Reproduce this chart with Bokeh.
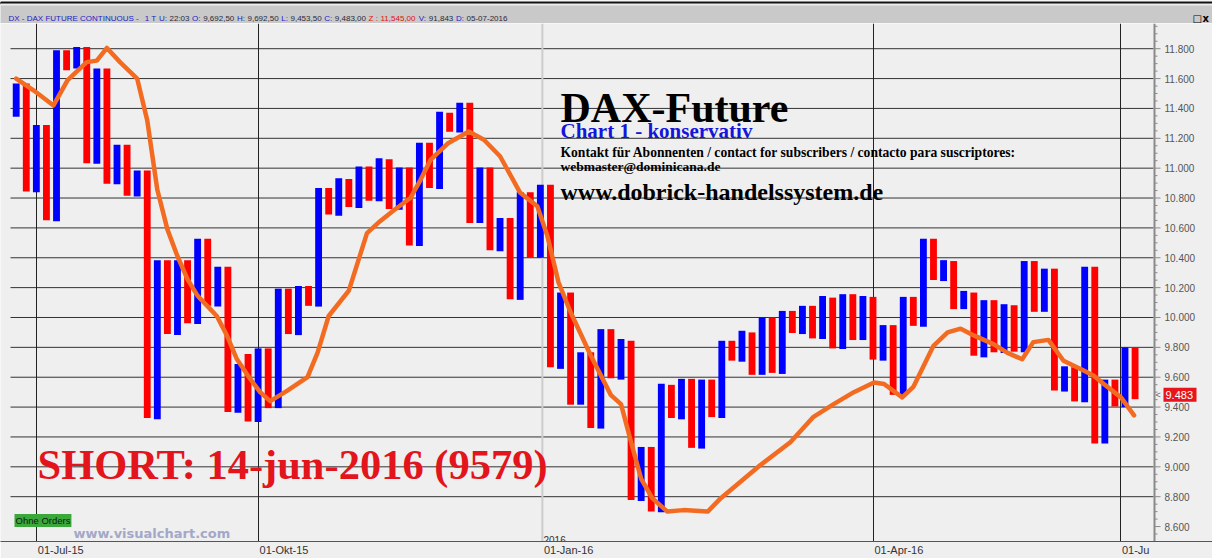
from bokeh.plotting import figure
from bokeh.models import Range1d, FixedTicker, Span, Label, ColumnDataSource
from bokeh.layouts import column
from bokeh.embed import file_html
from bokeh.resources import INLINE
from bokeh.core.properties import value

# ---------------- data ----------------
bar_top = [11567, 11567, 11289, 11289, 11789, 11789, 11811, 11811, 11667, 11667,
           11156, 11156, 10984, 10984, 10384, 10384, 10384, 10384, 10527, 10527,
           10340, 10340, 9689, 9756, 9793, 9793, 10193, 10193, 10211, 10211,
           10867, 10867, 10933, 10927, 11011, 11011, 11067, 11060, 11004, 11004,
           11171, 11171, 11378, 11371, 11438, 11438, 11004, 11004, 10667, 10667,
           10838, 10838, 10889, 10889, 10167, 10167, 9767, 9767, 9922, 9922,
           9856, 9844, 9133, 9133, 9556, 9549, 9589, 9589, 9584, 9584,
           9844, 9844, 9911, 9900, 10000, 10000, 10044, 10044, 10078, 10078,
           10144, 10133, 10156, 10156, 10144, 10138, 9949, 9949, 10138, 10138,
           10527, 10527, 10384, 10378, 10178, 10167, 10116, 10116, 10089, 10082,
           10378, 10378, 10327, 10327, 9673, 9667, 10340, 10340, 9584, 9584,
           9800, 9800]
bar_bottom = [11344, 10844, 10838, 10651, 10644, 11656, 11667, 11033, 11029, 10896,
              10893, 10816, 10811, 9327, 9318, 9889, 9882, 9962, 9956, 10078,
              10073, 9367, 9362, 9304, 9300, 9393, 9393, 9889, 9882, 10078,
              10073, 10689, 10682, 10740, 10733, 10782, 10778, 10727, 10722, 10482,
              10478, 10867, 10860, 11244, 11238, 10633, 10633, 10451, 10444, 10122,
              10118, 10400, 10400, 9667, 9656, 9416, 9416, 9260, 9256, 9593,
              9584, 8778, 8771, 8700, 8696, 9327, 9318, 9127, 9122, 9333,
              9327, 9711, 9704, 9616, 9616, 9629, 9622, 9896, 9889, 9860,
              9856, 9793, 9789, 9849, 9849, 9718, 9711, 9482, 9478, 9944,
              9938, 10251, 10244, 10056, 10056, 9744, 9733, 9767, 9762, 9771,
              9767, 10038, 10038, 9511, 9504, 9438, 9433, 9156, 9156, 9404,
              9400, 9453]
ma_index = [0, 1.75, 3.7, 5.1, 7, 8, 9, 10.3, 12, 13,
            14, 15, 16, 17, 18, 19.9, 20.9, 21.9, 23.2, 24.2,
            25.2, 26.9, 28.9, 29.9, 31, 33, 34.8, 36.1, 37.5, 39.1,
            40.1, 41.1, 42.8, 44.9, 46.4, 48, 50, 51.7, 52.7, 53.8,
            55, 57, 59, 60, 61, 62, 63.1, 64.6, 66.2, 68.6,
            69.9, 71.5, 73.8, 76.8, 79.1, 81.1, 83.1, 85.1, 86.1, 87.9,
            89, 91, 92.4, 93.7, 95, 97, 98.3, 99.8, 100.9, 102.4,
            103.9, 105.9, 106.9, 107.9, 109.6, 110.9]
ma_value = [11600, 11520, 11420, 11590, 11710, 11720, 11805, 11710, 11600, 11320,
            10855, 10590, 10410, 10255, 10145, 10010, 9880, 9720, 9590, 9500,
            9440, 9510, 9600, 9765, 10010, 10180, 10565, 10645, 10720, 10800,
            10920, 11055, 11165, 11245, 11190, 11080, 10835, 10745, 10545, 10235,
            10035, 9745, 9480, 9420, 9165, 8920, 8790, 8700, 8710, 8700,
            8790, 8880, 9010, 9165, 9335, 9420, 9500, 9565, 9555, 9465,
            9535, 9810, 9900, 9925, 9880, 9820, 9765, 9720, 9835, 9850,
            9710, 9645, 9610, 9555, 9465, 9345]
y_ticks = list(range(8600, 11801, 200))
date_ticks = [2, 24, 52.2, 85, 109.55]
date_labels = ["01-Jul-15", "01-Okt-15", "01-Jan-16", "01-Apr-16", "01-Ju"]
last_price = 9483
header_parts = ["DX - DAX FUTURE CONTINUOUS -", "1 T", "U:", "22:03", "O:", "9,692,50", "H:", "9,692,50",
                "L:", "9,453,50", "C:", "9,483,00", "Z :", "11,545,00", "V:", "91,843", "D:", "05-07-2016"]
header_kind = ["lab", "lab", "lab", "val", "lab", "val", "lab", "val",
               "lab", "val", "lab", "val", "red", "red", "lab", "val", "lab", "val"]

# ---------------- helpers: reference pixel -> data ----------------
def ix(px):
    return (px - 15.7) / 10.08

def vy(py):
    return 11800 - (py - 48.3) * 6.671

PX = 6.671  # price units per pixel

HELV = {" ": 278, "-": 333, ",": 278, ":": 278, ".": 278, "J": 500, "u": 556, "l": 222, "O": 778,
        "k": 500, "t": 278, "a": 556, "n": 556, "A": 667, "p": 556, "r": 333, "C": 722, "D": 722,
        "E": 667, "F": 611, "H": 722, "I": 278, "L": 556, "N": 722, "R": 722, "S": 667, "T": 611,
        "U": 722, "V": 667, "X": 667, "Z": 611}

def tw(s, size):
    return sum(HELV.get(c, 556) for c in s) / 1000 * size

W = 1212
HEAD_H = 23
MAIN_H = 535
SANS = "Liberation Sans"

# ---------------- header strip ----------------
h = figure(width=W, height=HEAD_H, x_range=Range1d(0, W), y_range=Range1d(0, HEAD_H),
           output_backend="svg", toolbar_location=None, x_axis_location=None, y_axis_location=None,
           min_border=0, background_fill_color="#c9c9c9", border_fill_color="#c9c9c9")
h.grid.visible = False
h.outline_line_color = None
h.quad(left=[0], right=[W], bottom=[21.4], top=[HEAD_H], color="#ffffff")
h.quad(left=[0], right=[W], bottom=[19.5], top=[21.5], color="#111111")
h.quad(left=[0], right=[W], bottom=[18.5], top=[19.5], color="#ececec")
cmap = {"lab": "#1c1cc4", "val": "#2a2a3a", "red": "#e01010"}
hx, cur = [], 8.0
for k, part in enumerate(header_parts):
    hx.append(cur)
    cur += tw(part, 8) + (6 if k == 0 else 2.6)
h.text(x=hx, y=[5.5] * len(hx), text=header_parts, text_color=[cmap[k] for k in header_kind],
       text_font=value(SANS), text_font_size="8px", text_baseline="alphabetic", text_align="left")
h.text(x=[1183, 1192, 1202], y=[5.5, 5.5, 5.5], text=["_", "□", "x"], text_color="#000000",
       text_font=value("DejaVu Sans"), text_font_size="10px", text_font_style="bold",
       text_baseline="alphabetic", text_align="left")

# ---------------- main chart ----------------
p = figure(width=W, height=MAIN_H, x_range=Range1d(ix(0), ix(W)), y_range=Range1d(vy(543), vy(23)),
           output_backend="svg", toolbar_location=None, y_axis_location=None,
           min_border_left=0, min_border_right=0, min_border_top=0, min_border_bottom=15,
           background_fill_color="#efefef", border_fill_color="#efefef")
p.outline_line_color = None

# vertical date lines
p.xgrid.ticker = FixedTicker(ticks=[t for t, l in zip(date_ticks, date_labels) if l != "01-Jan-16"])
p.xgrid.grid_line_color = "#222222"
p.ygrid.visible = False
p.add_layout(Span(location=date_ticks[2], dimension="height", line_color="#cccccc",
                  line_width=2, level="underlay"))

# horizontal price lines (stop at the price scale)
grid_levels = [t for t in y_ticks if t >= 8800]
p.segment(x0=[ix(10)] * len(grid_levels), x1=[ix(1153)] * len(grid_levels), y0=grid_levels, y1=grid_levels,
          line_color="#333333", line_width=1, level="underlay")

# x axis: labels start just right of each date line (centre = line + half label width)
centres = [round(t + (1.5 + tw(l, 11) / 2) / 10.08, 2) for t, l in zip(date_ticks, date_labels)]
p.xaxis.ticker = FixedTicker(ticks=centres)
p.xaxis.major_label_overrides = {c: l for c, l in zip(centres, date_labels)}
p.xaxis.major_label_text_font = SANS
p.xaxis.major_label_text_font_size = "11px"
p.xaxis.major_label_text_color = "#333333"
p.xaxis.major_label_standoff = 2
p.xaxis.major_tick_out = 0
p.xaxis.major_tick_in = 0
p.xaxis.minor_tick_out = 0
p.xaxis.minor_tick_in = 0
p.xaxis.major_tick_line_color = None
p.xaxis.minor_tick_line_color = None
p.xaxis.axis_line_color = "#555555"

# price scale on the right (drawn with the plot's own y scale)
minor_levels = [v for v in range(8550, 11951, 50) if v not in y_ticks]
p.segment(x0=[ix(1154)], x1=[ix(1154)], y0=[vy(543)], y1=[vy(23)], line_color="#8a8a8a", line_width=2)
p.segment(x0=[ix(1154)] * len(y_ticks), x1=[ix(1160)] * len(y_ticks), y0=y_ticks, y1=y_ticks,
          line_color="#8a8a8a", line_width=1)
p.segment(x0=[ix(1154)] * len(minor_levels), x1=[ix(1157)] * len(minor_levels), y0=minor_levels,
          y1=minor_levels, line_color="#8a8a8a", line_width=1)
p.text(x=[ix(1164)] * len(y_ticks), y=y_ticks, text=[f"{t / 1000:.3f}" for t in y_ticks],
       text_font=value(SANS), text_font_size="10px", text_color="#555555",
       text_baseline="middle", text_align="left")

# bars
n = len(bar_top)
src = ColumnDataSource(dict(x=list(range(n)), top=bar_top, bottom=bar_bottom,
                            color=["#0000ff" if i % 2 == 0 else "#ff0000" for i in range(n)]))
p.vbar(x="x", top="top", bottom="bottom", width=0.68, fill_color="color", line_color=None, source=src)

# moving average
p.line(ma_index, ma_value, line_color="#f26b21", line_width=4.5, line_join="round", line_cap="round")

# last price tag
p.quad(left=[ix(1163)], right=[ix(1196)], bottom=[last_price - 7 * PX], top=[last_price + 7 * PX],
       fill_color="#e8141c", line_color=None)
p.text(x=[ix(1165)], y=[last_price], text=[f"{last_price / 1000:.3f}"], text_font=value(SANS),
       text_font_size="11px", text_color="#ffffff", text_baseline="middle", text_align="left")
p.text(x=[ix(1155)], y=[last_price], text=["<"], text_font=value(SANS),
       text_font_size="9px", text_color="#666666", text_baseline="middle", text_align="left")

# texts in chart
def txt(px, py, s, size, color="#000000", font="Liberation Serif", style="bold"):
    p.text(x=[ix(px)], y=[vy(py)], text=[s], text_font=value(font), text_font_style=style,
           text_font_size=size, text_color=color, text_baseline="alphabetic", text_align="left")

txt(560, 108, "DAX-Future", "42px")
txt(560, 131, "Chart 1 - konservativ", "21px", "#1414dc")
txt(560, 152, "Kontakt für Abonnenten / contact for subscribers / contacto para suscriptores:", "13.6px")
txt(560, 167, "webmaster@dominicana.de", "13.5px")
txt(560, 192, "www.dobrick-handelssystem.de", "24px")
txt(37, 466, "SHORT: 14-jun-2016 (9579)", "42.5px", "#e3141b")
txt(73, 535, "www.visualchart.com", "13px", "#a3a8c8", "DejaVu Sans")
txt(543, 541, "2016", "10px", "#333333", SANS, "normal")

# "Ohne Orders" tag
tag = Label(x=ix(14), y=vy(522), text="Ohne Orders", text_font=SANS, text_font_size="9.5px",
            text_color="#102010", background_fill_color="#3aa83a",
            text_align="left", text_baseline="alphabetic")
if "padding" in Label.properties():
    tag.padding = 1
p.add_layout(tag)

layout = column(h, p)
open("out.html", "w").write(file_html(layout, INLINE))
